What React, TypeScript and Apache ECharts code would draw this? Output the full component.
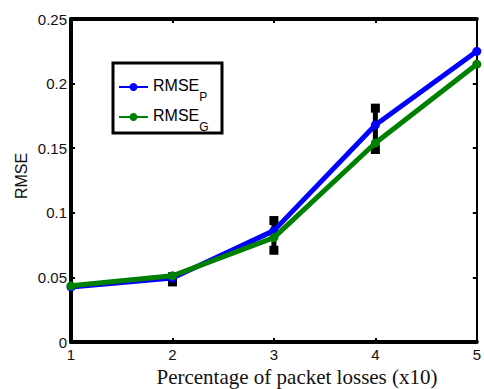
import React, { useEffect, useRef } from "react";
import * as echarts from "echarts";

const xTicks = [1, 2, 3, 4, 5];
const rmseP = [0.0425, 0.0495, 0.0862, 0.168, 0.225];
const rmseG = [0.0435, 0.0512, 0.0808, 0.154, 0.215];
const errLow = [null, 0.0465, 0.071, 0.149, null];
const errHigh = [null, 0.0505, 0.094, 0.181, null];
const seriesNames = ["RMSE_P", "RMSE_G"];
const subscripts: Record<string, string> = { RMSE_P: "P", RMSE_G: "G" };

const SANS = "Liberation Sans, Arial, sans-serif";
const SERIF = "Liberation Serif, Times New Roman, serif";

export default function App() {
  const ref = useRef<HTMLDivElement>(null);
  useEffect(() => {
    if (!ref.current) return;
    const chart = echarts.init(ref.current, undefined, { renderer: "svg" });
    const errData = xTicks
      .map((x, i) => (errLow[i] == null ? null : [x, errLow[i], errHigh[i]]))
      .filter((d) => d != null);
    const axisLabel = { fontSize: 15, fontFamily: SANS, color: "#111" };
    chart.setOption({
      animation: false,
      grid: { left: 71, right: 2, top: 19, bottom: 47, containLabel: false },
      legend: {
        orient: "vertical",
        left: 118,
        top: 77,
        padding: 0,
        itemWidth: 29,
        itemHeight: 10,
        itemGap: 4,
        data: seriesNames,
        formatter: (name: string) => `{m|RMSE}{s|${subscripts[name]}}`,
        textStyle: {
          fontFamily: SANS,
          color: "#000",
          rich: {
            m: { fontSize: 16, padding: [6, 0, 10, 0], verticalAlign: "top", fontFamily: SANS, color: "#000" },
            s: { fontSize: 12, verticalAlign: "bottom", fontFamily: SANS, color: "#000" },
          },
        },
      },
      graphic: [
        {
          type: "rect",
          shape: { x: 113, y: 63, width: 109, height: 70 },
          style: { fill: "#fff", stroke: "#000", lineWidth: 3 },
          z: 0,
        },
        {
          type: "text",
          x: 297,
          y: 377,
          style: {
            text: "Percentage of packet losses (x10)",
            fontFamily: SERIF,
            fontSize: 21,
            fill: "#111",
            textAlign: "center",
            textVerticalAlign: "middle",
          },
        },
        {
          type: "text",
          x: 21,
          y: 176,
          rotation: Math.PI / 2,
          style: {
            text: "RMSE",
            fontFamily: SANS,
            fontSize: 16,
            fill: "#111",
            textAlign: "center",
            textVerticalAlign: "middle",
          },
        },
      ],
      xAxis: [
        {
          type: "value",
          min: 1,
          max: 5,
          interval: 1,
          position: "bottom",
          axisLine: { show: true, onZero: false, lineStyle: { color: "#000", width: 4 } },
          axisTick: { show: true, inside: true, length: 4, lineStyle: { color: "#000", width: 2 } },
          axisLabel: { ...axisLabel, margin: 5 },
          splitLine: { show: false },
        },
        {
          type: "value",
          min: 1,
          max: 5,
          interval: 1,
          position: "top",
          axisLine: { show: true, onZero: false, lineStyle: { color: "#000", width: 4 } },
          axisTick: { show: true, inside: true, length: 4, lineStyle: { color: "#000", width: 2 } },
          axisLabel: { show: false },
          splitLine: { show: false },
        },
      ],
      yAxis: [
        {
          type: "value",
          min: 0,
          max: 0.25,
          interval: 0.05,
          position: "left",
          axisLine: { show: true, onZero: false, lineStyle: { color: "#000", width: 4 } },
          axisTick: { show: true, inside: true, length: 4, lineStyle: { color: "#000", width: 2 } },
          axisLabel: { ...axisLabel, margin: 4 },
          splitLine: { show: false },
        },
        {
          type: "value",
          min: 0,
          max: 0.25,
          interval: 0.05,
          position: "right",
          axisLine: { show: true, onZero: false, lineStyle: { color: "#000", width: 2 } },
          axisTick: { show: true, inside: true, length: 4, lineStyle: { color: "#000", width: 2 } },
          axisLabel: { show: false },
          splitLine: { show: false },
        },
      ],
      series: [
        {
          type: "custom",
          name: "err",
          clip: false,
          z: 1,
          data: errData,
          renderItem: (params: any, api: any) => {
            const x = api.value(0);
            const lo = api.coord([x, api.value(1)]);
            const hi = api.coord([x, api.value(2)]);
            const s = 9;
            return {
              type: "group",
              children: [
                {
                  type: "line",
                  shape: { x1: lo[0], y1: lo[1], x2: hi[0], y2: hi[1] },
                  style: { stroke: "#000", lineWidth: 5 },
                },
                {
                  type: "rect",
                  shape: { x: lo[0] - s / 2, y: lo[1] - s / 2, width: s, height: s },
                  style: { fill: "#000" },
                },
                {
                  type: "rect",
                  shape: { x: hi[0] - s / 2, y: hi[1] - s / 2, width: s, height: s },
                  style: { fill: "#000" },
                },
              ],
            };
          },
        },
        {
          type: "line",
          name: "RMSE_P",
          z: 3,
          data: xTicks.map((x, i) => [x, rmseP[i]]),
          symbol: "circle",
          symbolSize: 9,
          lineStyle: { color: "#0000ff", width: 5 },
          itemStyle: { color: "#0000ff" },
        },
        {
          type: "line",
          name: "RMSE_G",
          z: 4,
          data: xTicks.map((x, i) => [x, rmseG[i]]),
          symbol: "circle",
          symbolSize: 9,
          lineStyle: { color: "#008000", width: 5 },
          itemStyle: { color: "#008000" },
        },
      ],
    });
    return () => chart.dispose();
  }, []);
  return (
    <div
      ref={ref}
      style={{ position: "fixed", left: 0, top: 0, width: 484, height: 389, background: "#fff" }}
    />
  );
}
